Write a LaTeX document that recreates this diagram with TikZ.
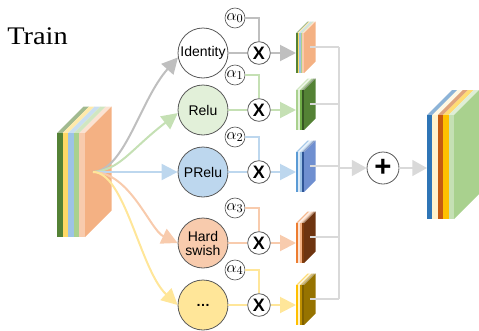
\documentclass[tikz,border=0pt]{standalone}
\usepackage{graphicx}
\usepackage{fontspec}
\setmainfont{Liberation Serif}
\setsansfont{Liberation Sans}
\usetikzlibrary{arrows.meta}

% line and fill colours
\definecolor{lgray}{HTML}{BFBFBF}
\definecolor{lgreen}{HTML}{C5E0B4}
\definecolor{lblue}{HTML}{BDD7EE}
\definecolor{lpeach}{HTML}{F8CBAD}
\definecolor{lyellow}{HTML}{FFE699}
\definecolor{busgray}{HTML}{D9D9D9}
\definecolor{rfill}{HTML}{E2F0D9}
% feature map colours
\definecolor{dgreen}{HTML}{548235}
\definecolor{mgreen}{HTML}{70AD47}
\definecolor{ddgreen}{HTML}{375623}
\definecolor{pgreen}{HTML}{A9D18E}
\definecolor{ylw}{HTML}{FFD966}
\definecolor{sky}{HTML}{9DC3E6}
\definecolor{orng}{HTML}{F4B183}
\definecolor{mblue}{HTML}{5B9BD5}
\definecolor{pblue}{HTML}{DEEBF7}
\definecolor{dblue}{HTML}{2F5597}
\definecolor{sblue}{HTML}{6F8FD0}
\definecolor{dorng}{HTML}{ED7D31}
\definecolor{ppeach}{HTML}{FBE5D6}
\definecolor{brown}{HTML}{843C0C}
\definecolor{sbrown}{HTML}{6E3410}
\definecolor{gold}{HTML}{FFC000}
\definecolor{cream}{HTML}{FFF2CC}
\definecolor{dgold}{HTML}{BF9000}
\definecolor{olive}{HTML}{7F6000}
\definecolor{sgold}{HTML}{967300}
\definecolor{cblue}{HTML}{2E75B6}
\definecolor{rust}{HTML}{C55A11}

% #1 left x, #2 bottom y, #3 height, #4 slice width, #5 depth, #6 slice colours, #7 side colour
\newcommand{\featmap}[7]{%
  \foreach \c [count=\i from 0] in {#6}{%
    \fill[\c!55!white] ({#1+\i*#4},{#2+#3}) -- ++(#4,0) -- ++(#5,#5) -- ++(-#4,0) -- cycle;
    \fill[\c] ({#1+\i*#4},#2) rectangle ++(#4,#3);
    \pgfmathsetmacro\featx{#1+(\i+1)*#4}\global\let\featend\featx
  }
  \fill[#7] (\featend,#2) -- ++(#5,#5) -- ++(0,#3) -- ++(-#5,-#5) -- cycle;
}

\tikzset{act/.style={draw=black!65,line width=0.6pt,circle,minimum size=37.5pt,
                     inner sep=0pt,align=center,font=\sffamily\fontsize{10.5}{10.5}\selectfont}}
\tikzset{mult/.style={draw=black!65,line width=0.6pt,circle,fill=white,minimum size=17pt,
                      inner sep=0pt,font=\sffamily\bfseries\fontsize{13.5}{13.5}\selectfont}}
\tikzset{coef/.style={draw=black!65,line width=0.5pt,circle,fill=white,minimum size=15pt,
                      inner sep=0pt,font=\fontsize{12.5}{12.5}\selectfont}}
\tikzset{link/.style={line width=1.5pt}}
\tikzset{flow/.style={link,-{Triangle[length=12pt,width=12pt]}}}
\tikzset{bus/.style={line width=1pt,draw=busgray}}

\begin{document}
\begin{tikzpicture}[x=0.75pt,y=0.75pt]
    \useasboundingbox (0,0) rectangle (479,330);

    % title
    \node[anchor=base west,inner sep=0pt,font=\fontsize{19}{19}\selectfont]
        (title) at (7,286) {\scalebox{1.12}[1]{Train}};

    % input feature map
    \featmap{57}{93}{104}{5.6}{26.5}{dgreen,ylw,sky,pgreen,lpeach}{orng}
    \coordinate (src) at (93,158);

    % output maps of each branch
    \featmap{296}{257}{40}{1.6}{11.5}{dgreen,ylw,sky,pgreen,lpeach}{orng}
    \featmap{296}{200}{40}{2}{11.5}{pgreen,rfill,mgreen,ddgreen}{dgreen}
    \featmap{296}{138}{40}{2}{11.5}{mblue,pblue,sky,dblue}{sblue}
    \featmap{296}{67}{40}{2}{11.5}{dorng,ppeach,orng,brown}{sbrown}
    \featmap{296}{5}{40}{2}{11.5}{gold,cream,dgold,olive}{sgold}

    % merged feature map
    \featmap{427}{111}{104}{5.4}{25}{cblue,cream,rust,gold,lgreen}{pgreen}

    % branches
    \foreach \lab/\yy/\fc/\lc [count=\i from 0] in
        {Identity/277/white/lgray, Relu/220/rfill/lgreen, PRelu/158/lblue/lblue,
         {Hard\\swish}/87/lpeach/lpeach, {\textbf{\ldots}}/25/lyellow/lyellow}{
        \node[act,fill=\fc] (act\i) at (203,\yy) {\lab};
        \node[mult] (mul\i) at (259,\yy) {X};
        \node[coef] (al\i) at (235,\yy+35) {$\alpha_{\i}$};
        \coordinate (feat\i) at (296,\yy);
        \coordinate (out\i) at (310,\yy+6);
        \draw[link,\lc] (act\i) -- (mul\i);
        \draw[link,\lc] (al\i) -| (mul\i);
        \draw[flow,\lc] (mul\i) -- (feat\i);
    }

    % input to each activation
    \draw[flow,lgray] (src) .. controls (125,160) and (140,230) .. (act0.190);
    \draw[flow,lgreen] (src) .. controls (120,160) and (130,180) .. (act1.187);
    \draw[flow,lblue] (src) -- (act2);
    \draw[flow,lpeach] (src) .. controls (130,158) and (150,100) .. (act3.180);
    \draw[flow,lyellow] (src) .. controls (125,158) and (140,60) .. (act4.180);

    % sum of the branches
    \coordinate (bus) at (339,162);
    \foreach \i in {0,1,2,3,4}{
        \draw[bus] (out\i) -- (out\i -| bus);
    }
    \draw[bus] (out0 -| bus) -- (out4 -| bus);
    \node[mult,minimum size=24pt,font=\sffamily\bfseries\fontsize{22}{22}\selectfont]
        (plus) at (383,162) {+};
    \coordinate (merged) at (427,162);
    \draw[bus,-{Triangle[length=11pt,width=12pt]}] (bus) -- (plus);
    \draw[bus,-{Triangle[length=11pt,width=12pt]}] (plus) -- (merged);
\end{tikzpicture}
\end{document}
